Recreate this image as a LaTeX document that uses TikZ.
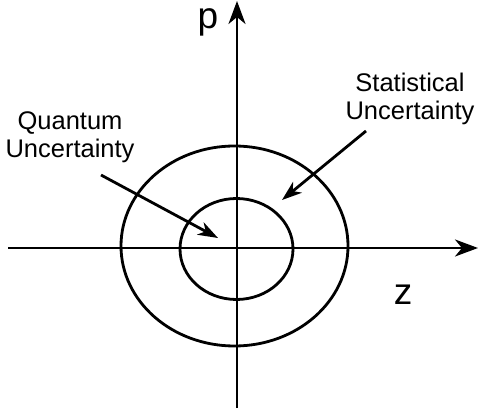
\documentclass[tikz,border=0pt]{standalone}
\usepackage{fontspec}
\setmainfont{Liberation Sans}
\usetikzlibrary{arrows.meta,shapes.geometric}
\begin{document}
\begin{tikzpicture}[x=1pt,y=-1pt, line width=2.8pt, line cap=butt,
 axis/.style={-{Stealth[length=23pt,width=17pt,inset=7pt]}},
 pointer/.style={-{Stealth[length=20pt,width=14pt,inset=6pt]}},
 lbl/.style={font=\fontsize{25.5}{28}\selectfont, align=center, inner sep=0pt},
 axlbl/.style={font=\fontsize{37}{40}\selectfont, inner sep=0pt, anchor=base},
 ring/.style={draw, ellipse, inner sep=0pt}]
\useasboundingbox (0,0) rectangle (479,411);
% rings
\node[ring, minimum width=227pt, minimum height=200pt] (outer) at (234.5,246) {};
\node[ring, minimum width=113pt, minimum height=101pt] (inner) at (236.5,249) {};
% axes
\coordinate (zL) at (8,248);
\coordinate (zR) at (478,248);
\coordinate (pB) at (237,408);
\coordinate (pT) at (237,1);
\draw[axis] (zL) -- (zR);
\draw[axis] (pB) -- (pT);
\node[axlbl] (plbl) at (208,29) {p};
\node[axlbl] (zlbl) at (403,305) {z};
% labels
\node[lbl] (qlbl) at (70,137) {Quantum\\Uncertainty};
\node[lbl] (slbl) at (410,99) {Statistical\\Uncertainty};
% pointers
\coordinate (qs) at (101,175);
\coordinate (qt) at (218,238);
\coordinate (ss) at (366,131);
\coordinate (st) at (282,200);
\draw[pointer] (qs) -- (qt);
\draw[pointer] (ss) -- (st);
\end{tikzpicture}
\end{document}
